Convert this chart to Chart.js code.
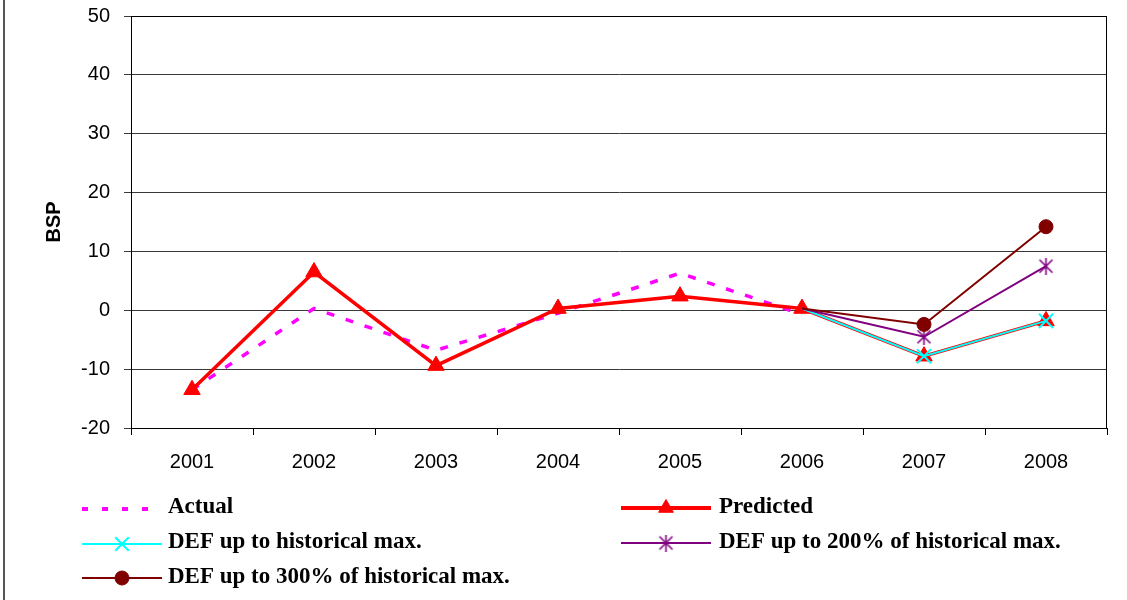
<!DOCTYPE html>
<html>
<head>
<meta charset="utf-8">
<script src="https://cdn.jsdelivr.net/npm/chart.js@4/dist/chart.umd.min.js"></script>
<style>
  html, body { margin: 0; padding: 0; background: #fff; }
  #wrap { width: 1127px; height: 600px; position: relative; }
</style>
</head>
<body>
<div id="wrap"><canvas id="c" width="1127" height="600"></canvas></div>
<script>
// Years on the category axis
const years = ['2001', '2002', '2003', '2004', '2005', '2006', '2007', '2008'];

// BSP series
const actual    = [-13.5, 0.3, -6.8, -0.5, 6.3, -0.7, null, null];
const predicted = [-13.5, 6.5, -9.4, 0.3, 2.4, 0.3, -7.8, -1.8];
const defHist   = [null, null, null, null, null, 0.3, -7.8, -1.8];
const def200    = [null, null, null, null, null, 0.3, -4.5, 7.5];
const def300    = [null, null, null, null, null, 0.3, -2.4, 14.2];

// Value axis range
const yMin = -20, yMax = 50, yStep = 10;

// Asterisk marker (X with a vertical stroke)
function makeAsterisk(color, size) {
  const cv = document.createElement('canvas');
  cv.width = size; cv.height = size;
  const g = cv.getContext('2d');
  g.strokeStyle = color; g.lineWidth = 1.6;
  const m = 2, s = size - 2;
  g.beginPath();
  g.moveTo(m, m); g.lineTo(s, s);
  g.moveTo(s, m); g.lineTo(m, s);
  g.moveTo(size / 2, 0); g.lineTo(size / 2, size);
  g.stroke();
  return cv;
}
const asterisk = makeAsterisk('#800080', 17);

// Hide the branch-point markers where the scenario lines join the prediction
const hideFirst = (r) => (ctx) => ctx.dataIndex === 5 ? 0 : r;

const axisFont = { family: '"Liberation Sans", Arial, sans-serif', size: 20 };

// Legend slots: [lineStart, lineEnd, lineY, textX, textY]
const legendSlots = [
  [82, 162, 509, 168, 507],
  [621, 711, 508, 719, 507],
  [82, 162, 544, 168, 542],
  [621, 711, 543, 719, 542],
  [82, 162, 578, 168, 577]
];

const frame = {
  id: 'frame',
  afterDraw(chart) {
    const ctx = chart.ctx;
    const a = chart.chartArea;
    ctx.save();
    // plot border
    ctx.strokeStyle = '#000';
    ctx.lineWidth = 1;
    ctx.strokeRect(Math.round(a.left) + 0.5, Math.round(a.top) + 0.5,
                   Math.round(a.right - a.left) - 1, Math.round(a.bottom - a.top));
    // outer frame edge
    ctx.strokeStyle = '#555';
    ctx.lineWidth = 2;
    ctx.beginPath(); ctx.moveTo(4, 0); ctx.lineTo(4, 600); ctx.stroke();

    // legend
    chart.data.datasets.forEach((ds, i) => {
      const [x0, x1, ly, tx, ty] = legendSlots[i];
      ctx.save();
      ctx.strokeStyle = ds.borderColor;
      ctx.lineWidth = ds.legendLineWidth;
      ctx.setLineDash(ds.borderDash ? ds.legendDash : []);
      ctx.beginPath(); ctx.moveTo(x0, ly); ctx.lineTo(x1, ly); ctx.stroke();
      ctx.setLineDash([]);
      if (ds.pointStyle && ds.legendMarker !== false) {
        ctx.fillStyle = ds.pointBackgroundColor;
        ctx.strokeStyle = ds.pointBorderColor;
        ctx.lineWidth = ds.pointBorderWidth;
        Chart.helpers.drawPoint(ctx, {
          pointStyle: ds.pointStyle,
          rotation: 0,
          radius: ds.legendRadius,
          borderWidth: ds.pointBorderWidth
        }, (x0 + x1) / 2, ly);
      }
      ctx.fillStyle = '#000';
      ctx.font = 'bold 23px "Liberation Serif", "Times New Roman", serif';
      ctx.textBaseline = 'middle';
      ctx.textAlign = 'left';
      ctx.fillText(ds.label, tx, ty);
      ctx.restore();
    });
    ctx.restore();
  }
};

new Chart(document.getElementById('c'), {
  type: 'line',
  data: {
    labels: years,
    datasets: [
      {
        label: 'Actual', data: actual, order: 5,
        borderColor: '#ff00ff', borderWidth: 3.5, borderDash: [8, 12],
        legendDash: [6, 14], legendLineWidth: 4,
        pointRadius: 0, pointStyle: false, legendMarker: false,
        tension: 0
      },
      {
        label: 'Predicted', data: predicted, order: 4,
        borderColor: '#ff0000', borderWidth: 3.5, legendLineWidth: 4,
        pointStyle: 'triangle', pointRadius: 9.5, legendRadius: 8.5,
        pointBackgroundColor: '#ff0000', pointBorderColor: '#ff0000', pointBorderWidth: 1,
        tension: 0
      },
      {
        label: 'DEF up to historical max.', data: defHist, order: 3,
        borderColor: '#00ffff', borderWidth: 2, legendLineWidth: 2,
        pointStyle: 'crossRot', pointRadius: hideFirst(10), legendRadius: 9.5,
        pointBackgroundColor: '#00ffff', pointBorderColor: '#00ffff', pointBorderWidth: 2,
        tension: 0
      },
      {
        label: 'DEF up to 200% of historical max.', data: def200, order: 2,
        borderColor: '#800080', borderWidth: 2, legendLineWidth: 2,
        pointStyle: asterisk, pointRadius: hideFirst(8), legendRadius: 8,
        pointBackgroundColor: '#800080', pointBorderColor: '#800080', pointBorderWidth: 2,
        tension: 0
      },
      {
        label: 'DEF up to 300% of historical max.', data: def300, order: 1,
        borderColor: '#800000', borderWidth: 2, legendLineWidth: 2,
        pointStyle: 'circle', pointRadius: hideFirst(7), legendRadius: 7,
        pointBackgroundColor: '#800000', pointBorderColor: '#800000', pointBorderWidth: 1,
        tension: 0
      }
    ]
  },
  options: {
    responsive: false,
    animation: false,
    layout: { padding: { left: 0, right: 20, top: 16, bottom: 0 } },
    plugins: { legend: { display: false }, tooltip: { enabled: false } },
    scales: {
      x: {
        type: 'category',
        offset: true,
        grid: { display: true, drawOnChartArea: false, drawTicks: true, tickLength: 7, color: '#000', offset: true },
        border: { display: true, color: '#000', width: 1 },
        ticks: { color: '#000', font: axisFont, padding: 15, maxRotation: 0 },
        afterFit(s) { s.height = 172; s.paddingLeft = 0; s.paddingRight = 0; }
      },
      y: {
        min: yMin, max: yMax,
        grid: { color: '#3a3a3a', lineWidth: 1, tickLength: 7, drawTicks: true },
        border: { display: true, color: '#000', width: 1 },
        ticks: { stepSize: yStep, color: '#000', font: axisFont, padding: 14 },
        title: {
          display: true, text: 'BSP', color: '#000',
          font: { family: '"Liberation Sans", Arial, sans-serif', size: 20, weight: 'bold' },
          padding: { top: 42, bottom: 0 }
        },
        afterFit(s) { s.width = 131; s.paddingTop = 0; s.paddingBottom = 0; }
      }
    }
  },
  plugins: [frame]
});
</script>
</body>
</html>
